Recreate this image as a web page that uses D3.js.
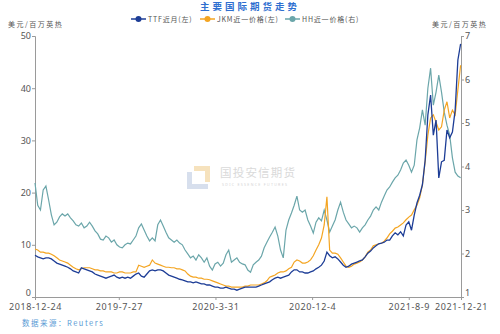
<!DOCTYPE html>
<html>
<head>
<meta charset="utf-8">
<script src="https://cdn.jsdelivr.net/npm/d3@7/dist/d3.min.js"></script>
<style>
  html, body { margin: 0; padding: 0; background: #fff; }
  svg { display: block; }
  text { font-family: "Noto Sans", "Noto Sans CJK SC", sans-serif; }
</style>
</head>
<body>
<div id="chart"></div>
<script>
// Weekly settlement prices, USD/MMBtu, starting 2018-12-24
const startDate = "2018-12-24";
const endDate = "2021-12-21";
const tickDates = ["2018-12-24", "2019-7-27", "2020-3-31", "2020-12-4", "2021-8-9", "2021-12-21"];

const ttf = [
  8.0, 7.7, 7.5, 7.3, 7.5, 7.5, 7.3, 6.9, 6.5, 6.3,
  6.1, 5.9, 5.7, 5.4, 5.0, 4.8, 4.6, 5.6, 5.4, 5.2,
  5.0, 4.8, 4.4, 4.2, 4.0, 3.8, 3.6, 3.8, 4.0, 4.2,
  3.8, 3.6, 3.8, 3.6, 3.8, 3.6, 4.0, 4.4, 4.6, 4.0,
  3.8, 4.4, 5.0, 5.2, 5.0, 5.2, 5.2, 5.0, 4.6, 4.2,
  4.0, 3.8, 3.6, 3.4, 3.3, 3.1, 2.9, 2.9, 2.7, 2.9,
  2.7, 2.5, 2.5, 2.3, 2.3, 2.1, 1.9, 1.9, 1.7, 1.7,
  1.9, 1.7, 1.5, 1.5, 1.3, 1.5, 1.7, 1.9, 1.9, 1.9,
  1.9, 1.9, 2.1, 2.3, 2.5, 2.7, 2.9, 3.3, 3.6, 3.8,
  3.6, 3.8, 4.0, 4.2, 4.8, 5.2, 5.2, 4.8, 4.8, 4.6,
  4.6, 4.8, 5.0, 5.4, 5.7, 6.1, 6.9, 8.6, 7.9, 7.5,
  7.7, 7.3, 6.7, 6.1, 5.7, 5.9, 6.3, 6.5, 6.7, 6.9,
  7.1, 7.7, 8.4, 8.8, 9.4, 9.8, 10.2, 10.3, 10.5, 10.9,
  10.9, 11.7, 12.3, 11.9, 12.5, 11.7, 13.8, 14.4, 12.8, 15.7,
  18.0, 19.5, 21.5, 26.2, 34.9, 38.7, 31.0, 33.9, 22.8, 25.9,
  26.2, 32.0, 30.5, 31.6, 35.8, 45.4, 48.5
];

const jkm = [
  9.2, 9.0, 8.6, 8.6, 8.4, 8.4, 8.2, 7.9, 7.5, 7.1,
  6.9, 6.7, 6.5, 6.1, 5.7, 5.4, 5.2, 5.4, 5.6, 5.6,
  5.6, 5.4, 5.2, 5.2, 5.0, 5.0, 4.8, 4.8, 4.8, 4.6,
  4.6, 4.8, 4.8, 4.6, 4.6, 4.6, 4.8, 4.8, 6.1, 5.9,
  5.7, 5.9, 6.1, 7.1, 6.5, 6.3, 6.1, 5.9, 5.7, 5.7,
  5.6, 5.6, 5.4, 5.4, 5.2, 5.0, 4.4, 4.0, 3.8, 3.8,
  3.6, 3.6, 3.4, 3.4, 3.3, 3.1, 2.9, 2.7, 2.5, 2.3,
  2.1, 2.1, 1.9, 1.9, 1.9, 1.9, 1.9, 2.1, 2.1, 2.3,
  2.3, 2.3, 2.3, 2.5, 2.7, 3.1, 3.8, 4.0, 4.2, 4.6,
  4.8, 4.8, 5.0, 5.4, 5.7, 6.7, 7.1, 6.9, 6.5, 6.5,
  6.7, 7.1, 7.9, 9.0, 10.0, 11.3, 13.8, 19.2, 9.0, 8.4,
  8.4, 8.2, 7.5, 6.7, 5.9, 5.7, 5.9, 6.3, 6.5, 6.7,
  7.1, 7.7, 8.6, 9.0, 9.8, 10.0, 10.2, 10.3, 10.7, 11.3,
  12.1, 12.6, 13.2, 13.4, 13.8, 14.2, 14.8, 15.3, 15.7, 16.7,
  17.6, 19.0, 21.5, 25.9, 31.0, 34.3, 34.9, 33.5, 32.0, 32.6,
  35.8, 37.4, 34.3, 35.8, 34.9, 39.7, 44.4
];

const hh = [
  3.62, 3.11, 3.00, 3.46, 3.55, 3.23, 2.89, 2.66, 2.72, 2.84,
  2.91, 2.86, 2.91, 2.82, 2.75, 2.66, 2.63, 2.70, 2.59, 2.63,
  2.72, 2.63, 2.52, 2.45, 2.33, 2.31, 2.40, 2.36, 2.26, 2.31,
  2.20, 2.15, 2.13, 2.20, 2.24, 2.22, 2.31, 2.40, 2.59, 2.68,
  2.54, 2.40, 2.29, 2.36, 2.29, 2.66, 2.77, 2.63, 2.49, 2.36,
  2.31, 2.26, 2.31, 2.24, 2.20, 2.08, 1.99, 1.90, 1.94, 1.85,
  1.97, 1.90, 1.80, 1.90, 1.71, 1.62, 1.76, 1.80, 1.71, 1.78,
  1.97, 2.08, 1.80, 1.85, 1.90, 1.80, 1.76, 1.74, 1.62, 1.57,
  1.74, 1.80, 1.85, 1.94, 2.13, 2.26, 2.38, 2.49, 2.61, 2.40,
  2.08, 1.90, 2.54, 2.77, 2.93, 3.11, 3.32, 3.00, 2.95, 3.00,
  2.77, 2.63, 2.47, 2.72, 2.82, 2.75, 3.00, 2.77, 2.49, 2.63,
  2.77, 3.00, 3.18, 2.95, 2.77, 2.68, 2.59, 2.63, 2.59, 2.49,
  2.59, 2.66, 2.77, 2.86, 3.00, 3.07, 3.00, 3.18, 3.32, 3.46,
  3.53, 3.64, 3.74, 3.80, 3.92, 4.08, 4.15, 4.03, 3.87, 4.03,
  4.61, 4.89, 5.30, 4.95, 5.80, 6.26, 5.41, 5.71, 6.10, 5.71,
  5.25, 4.95, 4.72, 4.20, 3.87, 3.78, 3.74
];

const seriesNames = ["TTF近月(左)", "JKM近一价格(左)", "HH近一价格(右)"];
const seriesColors = ["#1d3d96", "#f4a522", "#6ba6aa"];

const W = 500, H = 334;
const parse = d3.timeParse("%Y-%m-%d");
const t0 = parse(startDate);
const weekDates = ttf.map((_, i) => d3.timeDay.offset(t0, 7 * i));

const svg = d3.select("#chart").append("svg")
  .attr("width", W).attr("height", H);

const x = d3.scaleTime().domain([t0, parse(endDate)]).range([35, 461]);
const yL = d3.scaleLinear().domain([0, 50]).range([297, 36]);
const yR = d3.scaleLinear().domain([1, 7]).range([297, 36]);

// Watermark
const wm = svg.append("g").attr("opacity", 0.9);
wm.append("path")
  .attr("d", "M187,172 h5 v12 h16 v5 h-21 z")
  .attr("fill", "#d3dcec");
wm.append("path")
  .attr("d", "M194,166 h16 v16 h-5 v-11 h-11 z")
  .attr("fill", "#f6dfb6");
wm.append("text").attr("x", 220).attr("y", 177)
  .attr("font-size", 11.5).attr("fill", "#d6d6d6")
  .attr("letter-spacing", 1.2)
  .style("font-family", "'Noto Sans CJK SC', sans-serif")
  .text("国投安信期货");
wm.append("text").attr("x", 222).attr("y", 186)
  .attr("font-size", 3.6).attr("fill", "#d0d0d0")
  .attr("letter-spacing", 1.3)
  .text("SDIC ESSENCE FUTURES");

// Axes
const axisColor = "#9a9a9a";
const labelColor = "#555";

const gL = svg.append("g").attr("transform", "translate(35,0)")
  .call(d3.axisLeft(yL).tickValues([0, 10, 20, 30, 40, 50]).tickSize(3).tickSizeOuter(3));
const gR = svg.append("g").attr("transform", "translate(461,0)")
  .call(d3.axisRight(yR).tickValues([1, 2, 3, 4, 5, 6, 7]).tickFormat(d3.format("d")).tickSize(3).tickSizeOuter(3));
const tickFmt = d3.timeFormat("%Y-%-m-%-d");
const gX = svg.append("g").attr("transform", "translate(0,297)")
  .call(d3.axisBottom(x).tickValues(tickDates.map(parse)).tickFormat(tickFmt).tickSize(3).tickSizeOuter(0));

[gL, gR, gX].forEach(g => {
  g.selectAll(".domain").attr("stroke", axisColor).attr("stroke-width", 1);
  g.selectAll(".tick line").attr("stroke", axisColor);
  g.selectAll(".tick text").attr("fill", labelColor)
    .attr("font-size", 9).style("font-family", "'Noto Sans', sans-serif");
});
gL.selectAll(".tick text").attr("x", -4);
gR.selectAll(".tick text").attr("x", 4);
// lift the baseline labels slightly so they clear the date labels below
gL.selectAll(".tick").filter(d => d === 0).select("text").attr("dy", "-0.15em");
gR.selectAll(".tick").filter(d => d === 1).select("text").attr("dy", "-0.15em");
gX.selectAll(".tick text").attr("y", 7).attr("letter-spacing", 0.6);

// Lines
const lineL = d3.line().x((d, i) => x(weekDates[i])).y(d => yL(d));
const lineR = d3.line().x((d, i) => x(weekDates[i])).y(d => yR(d));

svg.append("path").datum(hh).attr("d", lineR)
  .attr("fill", "none").attr("stroke", seriesColors[2]).attr("stroke-width", 1.2);
svg.append("path").datum(jkm).attr("d", lineL)
  .attr("fill", "none").attr("stroke", seriesColors[1]).attr("stroke-width", 1.2);
svg.append("path").datum(ttf).attr("d", lineL)
  .attr("fill", "none").attr("stroke", seriesColors[0]).attr("stroke-width", 1.3);

// Title
svg.append("text").attr("x", 250).attr("y", 10)
  .attr("text-anchor", "middle").attr("font-size", 9.5)
  .attr("font-weight", "bold").attr("fill", "#2f6fd0")
  .attr("letter-spacing", 3)
  .style("font-family", "'Noto Sans CJK SC', sans-serif")
  .text("主要国际期货走势");

// Legend
const legendX = [131, 200, 285];
seriesNames.forEach((name, i) => {
  const g = svg.append("g").attr("transform", `translate(${legendX[i]},19)`);
  g.append("line").attr("x1", 0).attr("x2", 15).attr("y1", 0).attr("y2", 0)
    .attr("stroke", seriesColors[i]).attr("stroke-width", 1.5);
  g.append("circle").attr("cx", 7.5).attr("cy", 0).attr("r", 3)
    .attr("fill", seriesColors[i]);
  g.append("text").attr("x", 17).attr("y", 2.5)
    .attr("font-size", 7).attr("fill", "#555").attr("letter-spacing", 0.8)
    .style("font-family", "'Noto Sans CJK SC', sans-serif")
    .text(name);
});

// Unit labels
svg.append("text").attr("x", 8).attr("y", 27)
  .attr("font-size", 7).attr("fill", "#555").attr("letter-spacing", 1.5)
  .style("font-family", "'Noto Sans CJK SC', sans-serif")
  .text("美元/百万英热");
svg.append("text").attr("x", 432).attr("y", 27)
  .attr("font-size", 7).attr("fill", "#555").attr("letter-spacing", 1.5)
  .style("font-family", "'Noto Sans CJK SC', sans-serif")
  .text("美元/百万英热");

// Source note
svg.append("text").attr("x", 22).attr("y", 326)
  .attr("font-size", 7.5).attr("fill", "#5b9bd5").attr("letter-spacing", 1.5)
  .style("font-family", "'Noto Sans CJK SC', sans-serif")
  .text("数据来源：Reuters");
</script>
</body>
</html>
